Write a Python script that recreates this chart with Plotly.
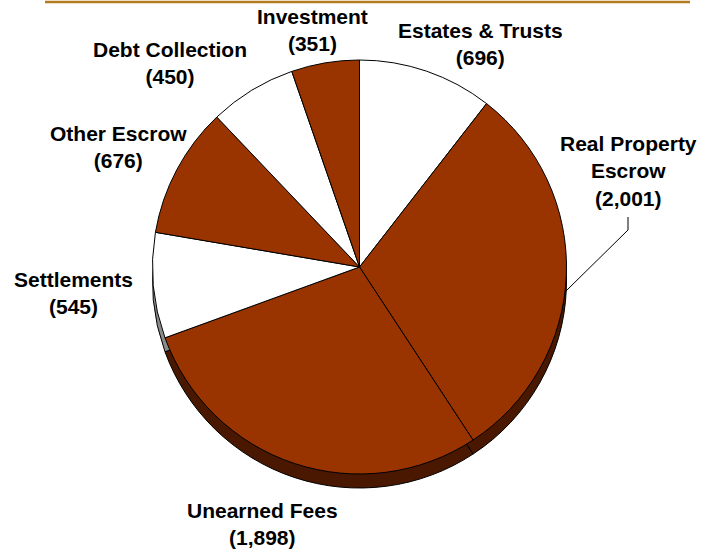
import plotly.graph_objects as go

# Balances by account type (clockwise from 12 o'clock)
categories = ["Estates & Trusts", "Real Property Escrow", "Unearned Fees",
              "Settlements", "Other Escrow", "Debt Collection", "Investment"]
values = [696, 2001, 1898, 545, 676, 450, 351]
label_lines = ["Estates & Trusts", "Real Property<br>Escrow", "Unearned Fees",
               "Settlements", "Other Escrow", "Debt Collection", "Investment"]

BROWN = "#993300"
WHITE = "#FFFFFF"
face_colors = [WHITE, BROWN, BROWN, WHITE, BROWN, WHITE, BROWN]
side_colors = ["#8A8A8A" if c == WHITE else "#4A1800" for c in face_colors]

W, H = 713, 552
CX, CY, R = 359.5, 267.0, 207.0   # pie centre / radius in pixels
DEPTH = 14.0                        # thickness of the disc edge


def px_dom(cx, cy, r):
    return dict(x=[(cx - r) / W, (cx + r) / W],
                y=[1 - (cy + r) / H, 1 - (cy - r) / H])


fig = go.Figure()

# lower disc gives the visible rim
fig.add_trace(go.Pie(
    labels=categories, values=values, sort=False, direction="clockwise",
    rotation=0, textinfo="none", hoverinfo="skip", showlegend=False,
    marker=dict(colors=side_colors, line=dict(color="black", width=1)),
    domain=px_dom(CX, CY + DEPTH, R),
))

# top face
fig.add_trace(go.Pie(
    labels=categories, values=values, sort=False, direction="clockwise",
    rotation=0, textinfo="none", showlegend=False,
    hovertemplate="%{label}: %{value:,}<extra></extra>",
    marker=dict(colors=face_colors, line=dict(color="black", width=1)),
    domain=px_dom(CX, CY, R),
))

# label positions (pixel centres of each text block)
label_pos = [(480, 44.5), (628, 170.5), (262, 523.5), (73, 292.5),
             (118, 146.5), (170, 63), (312, 30.5)]

for name, val, (lx, ly) in zip(label_lines, values, label_pos):
    fig.add_annotation(
        text=f"{name}<br>({val:,})", x=lx / W, y=1 - ly / H,
        xref="paper", yref="paper", xanchor="center", yanchor="middle",
        showarrow=False, align="center",
        font=dict(family="Arial, 'Liberation Sans', sans-serif", size=21,
                  color="black", weight="bold"),
    )


def pt(x, y):
    return f"{x / W:.5f},{1 - y / H:.5f}"


# leader line for the Real Property Escrow label
fig.add_shape(type="path", xref="paper", yref="paper",
              path=f"M {pt(628, 217)} L {pt(628, 230)} L {pt(566, 291)}",
              line=dict(color="black", width=1))

# rule across the top
fig.add_shape(type="line", xref="paper", yref="paper",
              x0=45 / W, x1=690 / W, y0=1 - 2 / H, y1=1 - 2 / H,
              line=dict(color="#B47A1E", width=2.5))

fig.update_layout(
    width=W, height=H, margin=dict(l=0, r=0, t=0, b=0),
    paper_bgcolor="white", plot_bgcolor="white",
)

fig.write_html("out.html")
